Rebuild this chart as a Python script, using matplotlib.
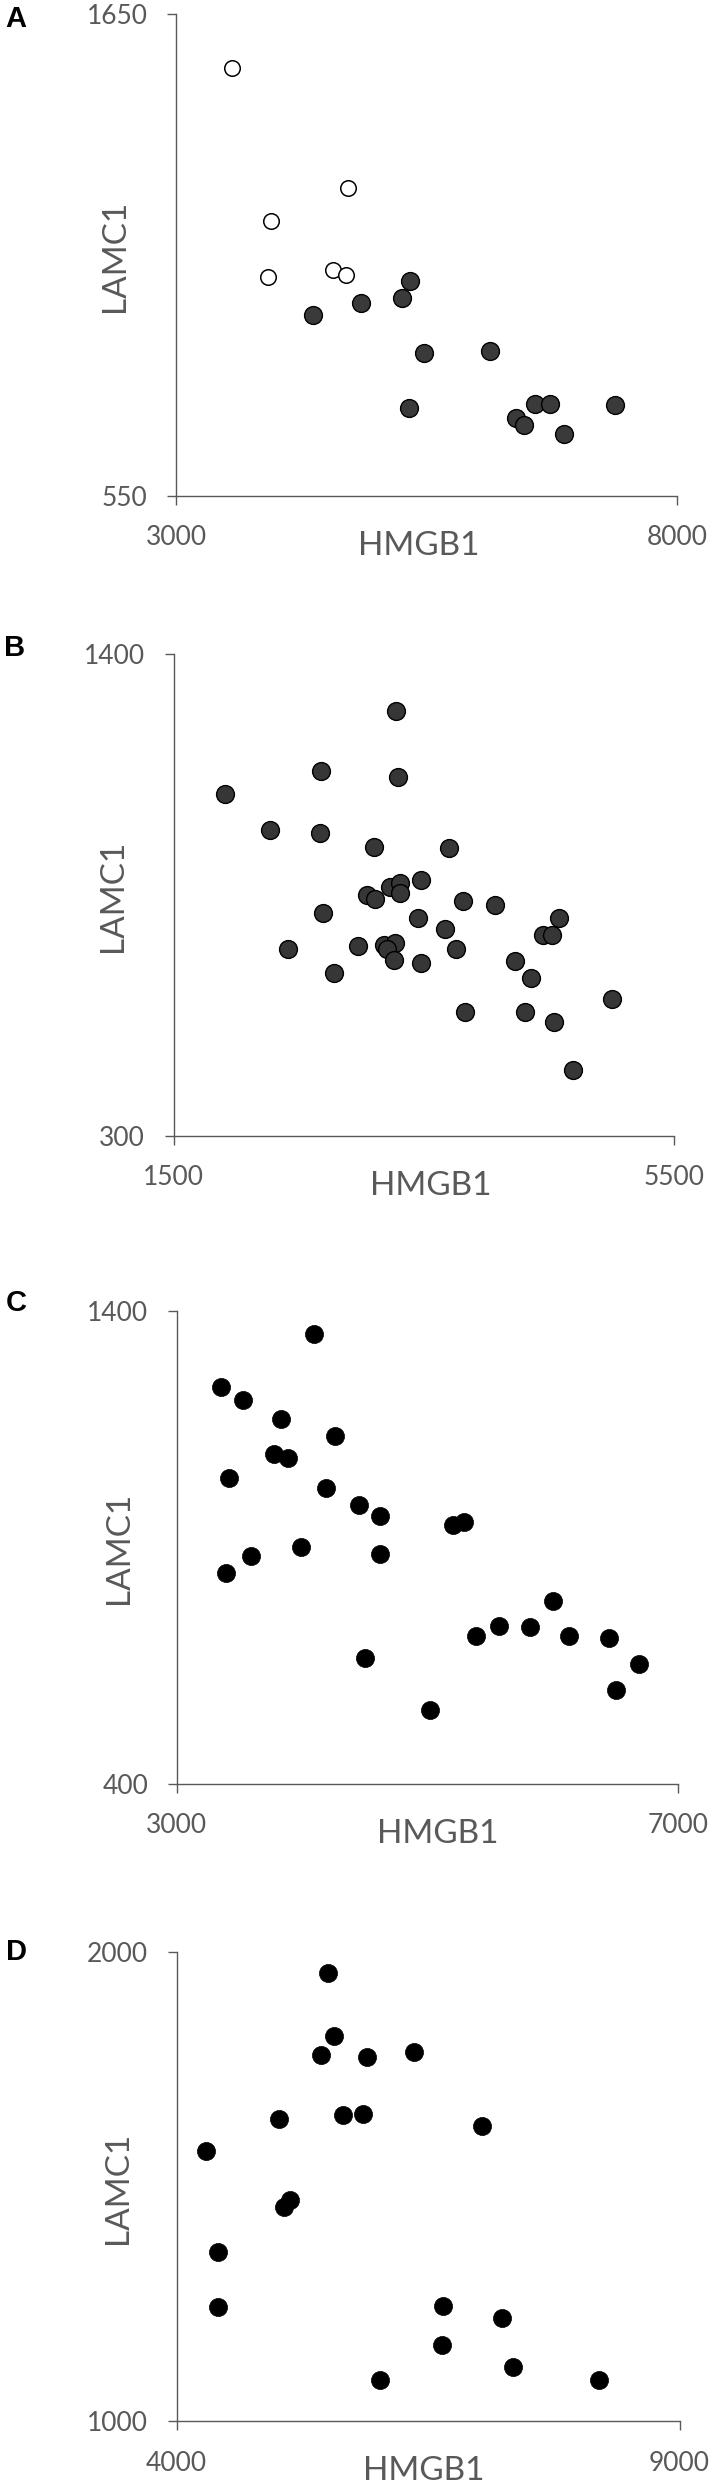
import numpy as np
import matplotlib
matplotlib.use("Agg")
import matplotlib.pyplot as plt

# panel A: open circles and filled circles
a_open_x = [3560, 3944, 3917, 4712, 4567, 4698]
a_open_y = [1525, 1176, 1049, 1253, 1065, 1054]
a_fill_x = [4364, 4847, 5258, 5340, 5480, 6130, 5322, 6582, 6731, 7377, 6397, 6473, 6871]
a_fill_y = [963, 989, 1002, 1040, 875, 879, 751, 760, 760, 756, 726, 710, 691]

# panel B
b_x = [3281, 2679, 3291, 1910, 2272, 2668, 3099, 3698, 3480, 3230, 3313, 3310, 3049,
       3107, 3817, 4068, 2693, 3455, 4579, 3672, 4452, 4528, 2972, 2417, 3183, 3270,
       3204, 3262, 3759, 3480, 2784, 4227, 4354, 5007, 3832, 4311, 4543, 4691]
b_y = [1270, 1133, 1120, 1081, 999, 990, 960, 957, 884, 867, 877, 853, 850,
       840, 836, 827, 809, 797, 797, 771, 758, 758, 733, 725, 735, 739,
       726, 702, 725, 693, 672, 699, 659, 612, 583, 583, 560, 449]

# panel C
c_x = [4098, 3354, 3528, 3831, 4265, 3777, 3892, 3416, 4196, 4453, 4626, 5204, 5295, 3994,
       3596, 4626, 3397, 6006, 5573, 5818, 5392, 6136, 6454, 4507, 6689, 6505, 5024]
c_y = [1351, 1239, 1211, 1172, 1136, 1098, 1088, 1046, 1026, 990, 967, 948, 953, 900,
       881, 886, 846, 786, 734, 732, 712, 712, 707, 665, 653, 598, 556]

# panel D
d_x = [5507, 5561, 5435, 5891, 6360, 5020, 5656, 5850, 7037, 4289, 5128, 5069, 4415, 4406,
       6653, 7231, 6635, 7344, 6017, 8201]
d_y = [1955, 1819, 1779, 1776, 1787, 1643, 1652, 1654, 1628, 1575, 1471, 1455, 1361, 1243,
       1246, 1219, 1161, 1114, 1087, 1087]

panel_letters = ["A", "B", "C", "D"]
x_ranges = [(3000, 8000), (1500, 5500), (3000, 7000), (4000, 9000)]
y_ranges = [(550, 1650), (300, 1400), (400, 1400), (1000, 2000)]
x_name = "HMGB1"
y_name = "LAMC1"

W, H = 709, 2487
GRAY = "#595959"
plt.rcParams['font.family'] = ['Lato', 'DejaVu Sans']

fig = plt.figure(figsize=(W / 100, H / 100), dpi=100)

# axes boxes in pixels: left, top, right, bottom
boxes = [(176, 13.6, 677, 495.6),
         (173.5, 654, 674, 1135.5),
         (176.7, 1311, 677.7, 1783.5),
         (176.7, 1951.5, 679.5, 2421)]
xlabel_pos = [(0.485, -0.105), (0.513, -0.105), (0.522, -0.106), (0.491, -0.107)]
ylabel_pos = [(-0.121, 0.497), (-0.120, 0.497), (-0.116, 0.498), (-0.116, 0.496)]
letter_pos = [(16, 19), (15, 648), (16, 1303), (16, 1952)]


def make_axes(i):
    l, t, r, b = boxes[i]
    ax = fig.add_axes([l / W, 1 - b / H, (r - l) / W, (b - t) / H])
    ax.set_xlim(*x_ranges[i])
    ax.set_ylim(*y_ranges[i])
    ax.set_xticks(list(x_ranges[i]))
    ax.set_yticks(list(y_ranges[i]))
    ax.spines['top'].set_visible(False)
    ax.spines['right'].set_visible(False)
    for s in ['left', 'bottom']:
        ax.spines[s].set_color(GRAY)
        ax.spines[s].set_linewidth(1.0)
    ax.tick_params(axis='both', direction='out', length=6.5, width=1.0,
                   color=GRAY, labelcolor=GRAY, labelsize=19)
    ax.tick_params(axis='x', pad=15)
    ax.tick_params(axis='y', pad=14)
    ax.set_xlabel(x_name, fontsize=24, color=GRAY)
    ax.set_ylabel(y_name, fontsize=24, color=GRAY)
    ax.xaxis.set_label_coords(*xlabel_pos[i])
    ax.yaxis.set_label_coords(*ylabel_pos[i])
    ax.xaxis.label.set_va('center')
    ax.yaxis.label.set_va('center')
    lx, ly = letter_pos[i]
    fig.text(lx / W, 1 - ly / H, panel_letters[i], fontsize=21, fontweight='bold',
             family='Liberation Sans', ha='center', va='center', color='black')
    return ax


ax = make_axes(0)
ax.scatter(a_fill_x, a_fill_y, s=165, facecolor='#3a3a3a', edgecolor='black',
           linewidth=1.0, clip_on=False, zorder=3)
ax.scatter(a_open_x, a_open_y, s=125, facecolor='white', edgecolor='black',
           linewidth=1.1, clip_on=False, zorder=3)

ax = make_axes(1)
ax.scatter(b_x, b_y, s=165, facecolor='#363636', edgecolor='black',
           linewidth=1.0, clip_on=False, zorder=3)

ax = make_axes(2)
ax.scatter(c_x, c_y, s=170, facecolor='black', edgecolor='black',
           linewidth=0.5, clip_on=False, zorder=3)

ax = make_axes(3)
ax.scatter(d_x, d_y, s=170, facecolor='black', edgecolor='black',
           linewidth=0.5, clip_on=False, zorder=3)

fig.savefig("out.png", dpi=100)
